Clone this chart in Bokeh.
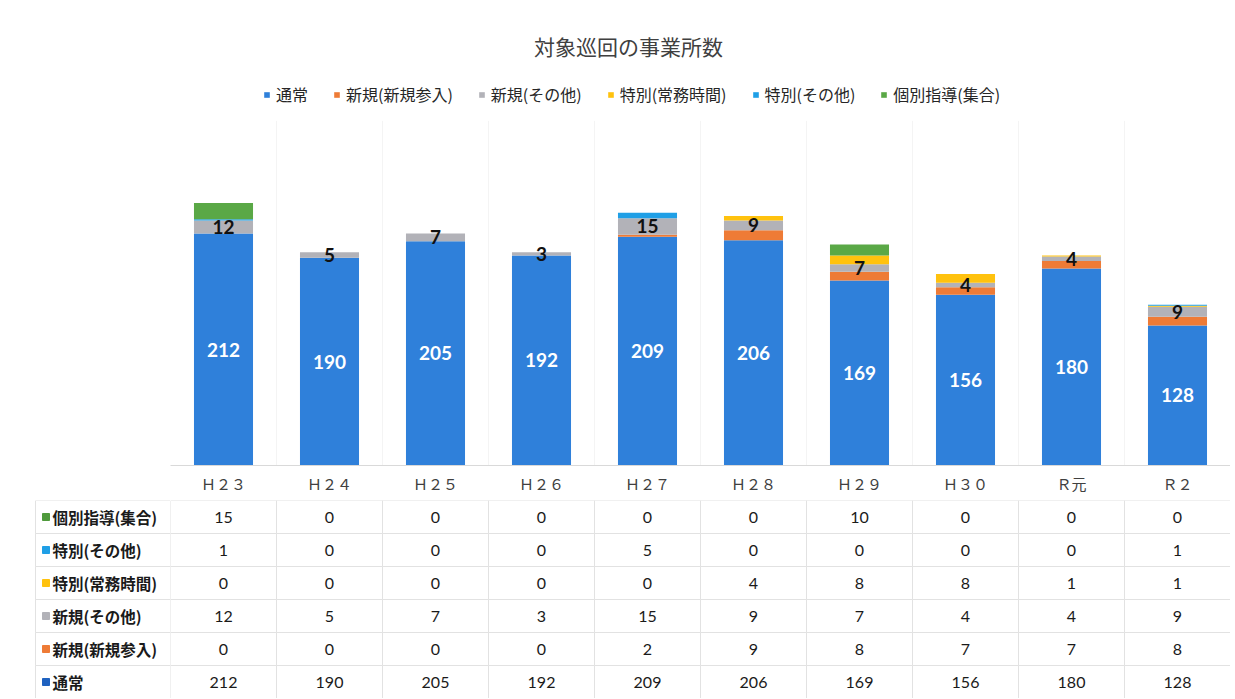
import numpy as np
from bokeh.plotting import figure
from bokeh.models import FactorRange, Range1d, ColumnDataSource, Legend, LegendItem, Label
from bokeh.transform import dodge
from bokeh.layouts import column, row
from bokeh.embed import file_html
from bokeh.resources import INLINE
from bokeh.core.properties import value

# ---------------- data ----------------
years = ["Ｈ２３", "Ｈ２４", "Ｈ２５", "Ｈ２６", "Ｈ２７", "Ｈ２８", "Ｈ２９", "Ｈ３０", "Ｒ元", "Ｒ２"]
series = ["通常", "新規(新規参入)", "新規(その他)", "特別(常務時間)", "特別(その他)", "個別指導(集合)"]
tsujo = [212, 190, 205, 192, 209, 206, 169, 156, 180, 128]
shinki_sannyu = [0, 0, 0, 0, 2, 9, 8, 7, 7, 8]
shinki_sonota = [12, 5, 7, 3, 15, 9, 7, 4, 4, 9]
tokubetsu_jomu = [0, 0, 0, 0, 0, 4, 8, 8, 1, 1]
tokubetsu_sonota = [1, 0, 0, 0, 5, 0, 0, 0, 0, 1]
kobetsu = [15, 0, 0, 0, 0, 0, 10, 0, 0, 0]
title_text = "対象巡回の事業所数"

colors = ["#2f80da", "#ee7b36", "#b2b2b8", "#ffc20e", "#1f9fe6", "#5aa846"]
legend_colors = ["#1f62c0", "#ee7b36", "#b2b2b8", "#ffc20e", "#1f9fe6", "#4f9a3c"]

keys = ["tsujo", "sannyu", "sonota", "jomu", "toku_sonota", "kobetsu"]
vals = [tsujo, shinki_sannyu, shinki_sonota, tokubetsu_jomu, tokubetsu_sonota, kobetsu]

CJK = "Noto Sans CJK JP"
NUM = "Lato"

W = 1230
LEFT = 170
H1 = 500
BOTTOM = 35
H2 = 198
PX_PER_UNIT = 1.094
frame_h = H1 - BOTTOM
ymax = frame_h / PX_PER_UNIT

# ---------------- main chart ----------------
src = ColumnDataSource(dict(year=years, **{k: v for k, v in zip(keys, vals)}))

p = figure(x_range=FactorRange(*years), y_range=Range1d(0, ymax),
           width=W, height=H1, output_backend="svg", toolbar_location=None,
           y_axis_location=None, min_border_left=LEFT, min_border_right=0,
           min_border_top=0, min_border_bottom=BOTTOM)
p.outline_line_color = None
p.xgrid.visible = False
p.ygrid.visible = False
p.background_fill_color = "white"
p.border_fill_color = "white"

# faint vertical separators between categories
p.segment(x0=dodge("year", 0.5, range=p.x_range), x1=dodge("year", 0.5, range=p.x_range),
          y0=0, y1=315, source=ColumnDataSource(dict(year=years[:-1])),
          line_color="#f4f4f4", line_width=1)

rs = p.vbar_stack(keys, x="year", width=0.557, color=colors, source=src, line_width=0)

# data labels
t_arr = np.array(tsujo)
lab_src = ColumnDataSource(dict(year=years, y=t_arr / 2.0, txt=[str(v) for v in tsujo]))
p.text(x="year", y="y", text="txt", source=lab_src, text_color="white",
       text_font=value(NUM), text_font_style="bold", text_font_size="19px",
       text_align="center", text_baseline="middle")
son_y = t_arr + np.array(shinki_sannyu) + np.array(shinki_sonota) / 2.0
lab2 = ColumnDataSource(dict(year=years, y=son_y, txt=[str(v) for v in shinki_sonota]))
p.text(x="year", y="y", text="txt", source=lab2, text_color="#111111",
       text_font=value(NUM), text_font_style="bold", text_font_size="19px",
       text_align="center", text_baseline="middle")

# x axis (category labels)
ax = p.xaxis[0]
ax.axis_line_color = "#d9d9d9"
ax.major_tick_line_color = None
ax.minor_tick_line_color = None
ax.major_tick_out = 0
ax.major_tick_in = 0
ax.major_label_standoff = 7
ax.major_label_text_font = CJK
ax.major_label_text_font_size = "15px"
ax.major_label_text_color = "#404040"

# legend
legend = Legend(items=[LegendItem(label=s, renderers=[r]) for s, r in zip(series, rs)],
                orientation="horizontal", location=(93, 359),
                glyph_width=7, glyph_height=7, label_standoff=6, spacing=25,
                padding=0, margin=0, border_line_color=None, background_fill_alpha=0,
                label_text_font=CJK, label_text_font_size="16px", label_text_color="#262626")
p.add_layout(legend, "center")

p.add_layout(Label(x=458, y=420, x_units="screen", y_units="screen", text=title_text,
                   text_font=CJK, text_font_size="21px", text_color="#404040",
                   text_align="center", text_baseline="middle"))

# ---------------- data table ----------------
rows_bottom_to_top = series[:]  # 通常 at bottom, 個別指導 at top
cell_year, cell_ser, cell_txt = [], [], []
for s, v in zip(series, vals):
    for y, n in zip(years, v):
        cell_year.append(y)
        cell_ser.append(s)
        cell_txt.append(str(n))
cells = ColumnDataSource(dict(year=cell_year, ser=cell_ser, txt=cell_txt))

t = figure(x_range=p.x_range, y_range=FactorRange(*rows_bottom_to_top),
           width=W - LEFT, height=H2, output_backend="svg", toolbar_location=None,
           x_axis_location=None, y_axis_location=None,
           min_border_left=0, min_border_right=0, min_border_top=0, min_border_bottom=0)
t.outline_line_color = None
t.xgrid.visible = False
t.ygrid.visible = False
t.rect(x="year", y="ser", width=1, height=1, source=cells, fill_color=None,
       line_color="#e2e2e2", line_width=1)
t.text(x="year", y="ser", text="txt", source=cells, text_color="#1a1a1a",
       text_font=value(NUM), text_font_size="16px",
       text_align="center", text_baseline="middle")

# row header column
lf = figure(x_range=Range1d(0, LEFT), y_range=FactorRange(*rows_bottom_to_top),
            width=LEFT, height=H2, output_backend="svg", toolbar_location=None,
            x_axis_location=None, y_axis_location=None,
            min_border_left=0, min_border_right=0, min_border_top=0, min_border_bottom=0)
lf.outline_line_color = None
lf.xgrid.visible = False
lf.ygrid.visible = False
hdr = ColumnDataSource(dict(ser=series, color=legend_colors))
lf.rect(x=(35 + LEFT) / 2, y="ser", width=LEFT - 35, height=1, source=hdr,
        fill_color=None, line_color="#e2e2e2")
lf.scatter(x=45.5, y="ser", marker="square", size=7, color="color", source=hdr)
lf.text(x=52, y="ser", text="ser", source=hdr, text_color="#1a1a1a",
        text_font=value(CJK), text_font_style="bold", text_font_size="15.5px",
        text_align="left", text_baseline="middle")

layout = column(p, row(lf, t, spacing=0), spacing=0)
open("out.html", "w").write(file_html(layout, INLINE))
